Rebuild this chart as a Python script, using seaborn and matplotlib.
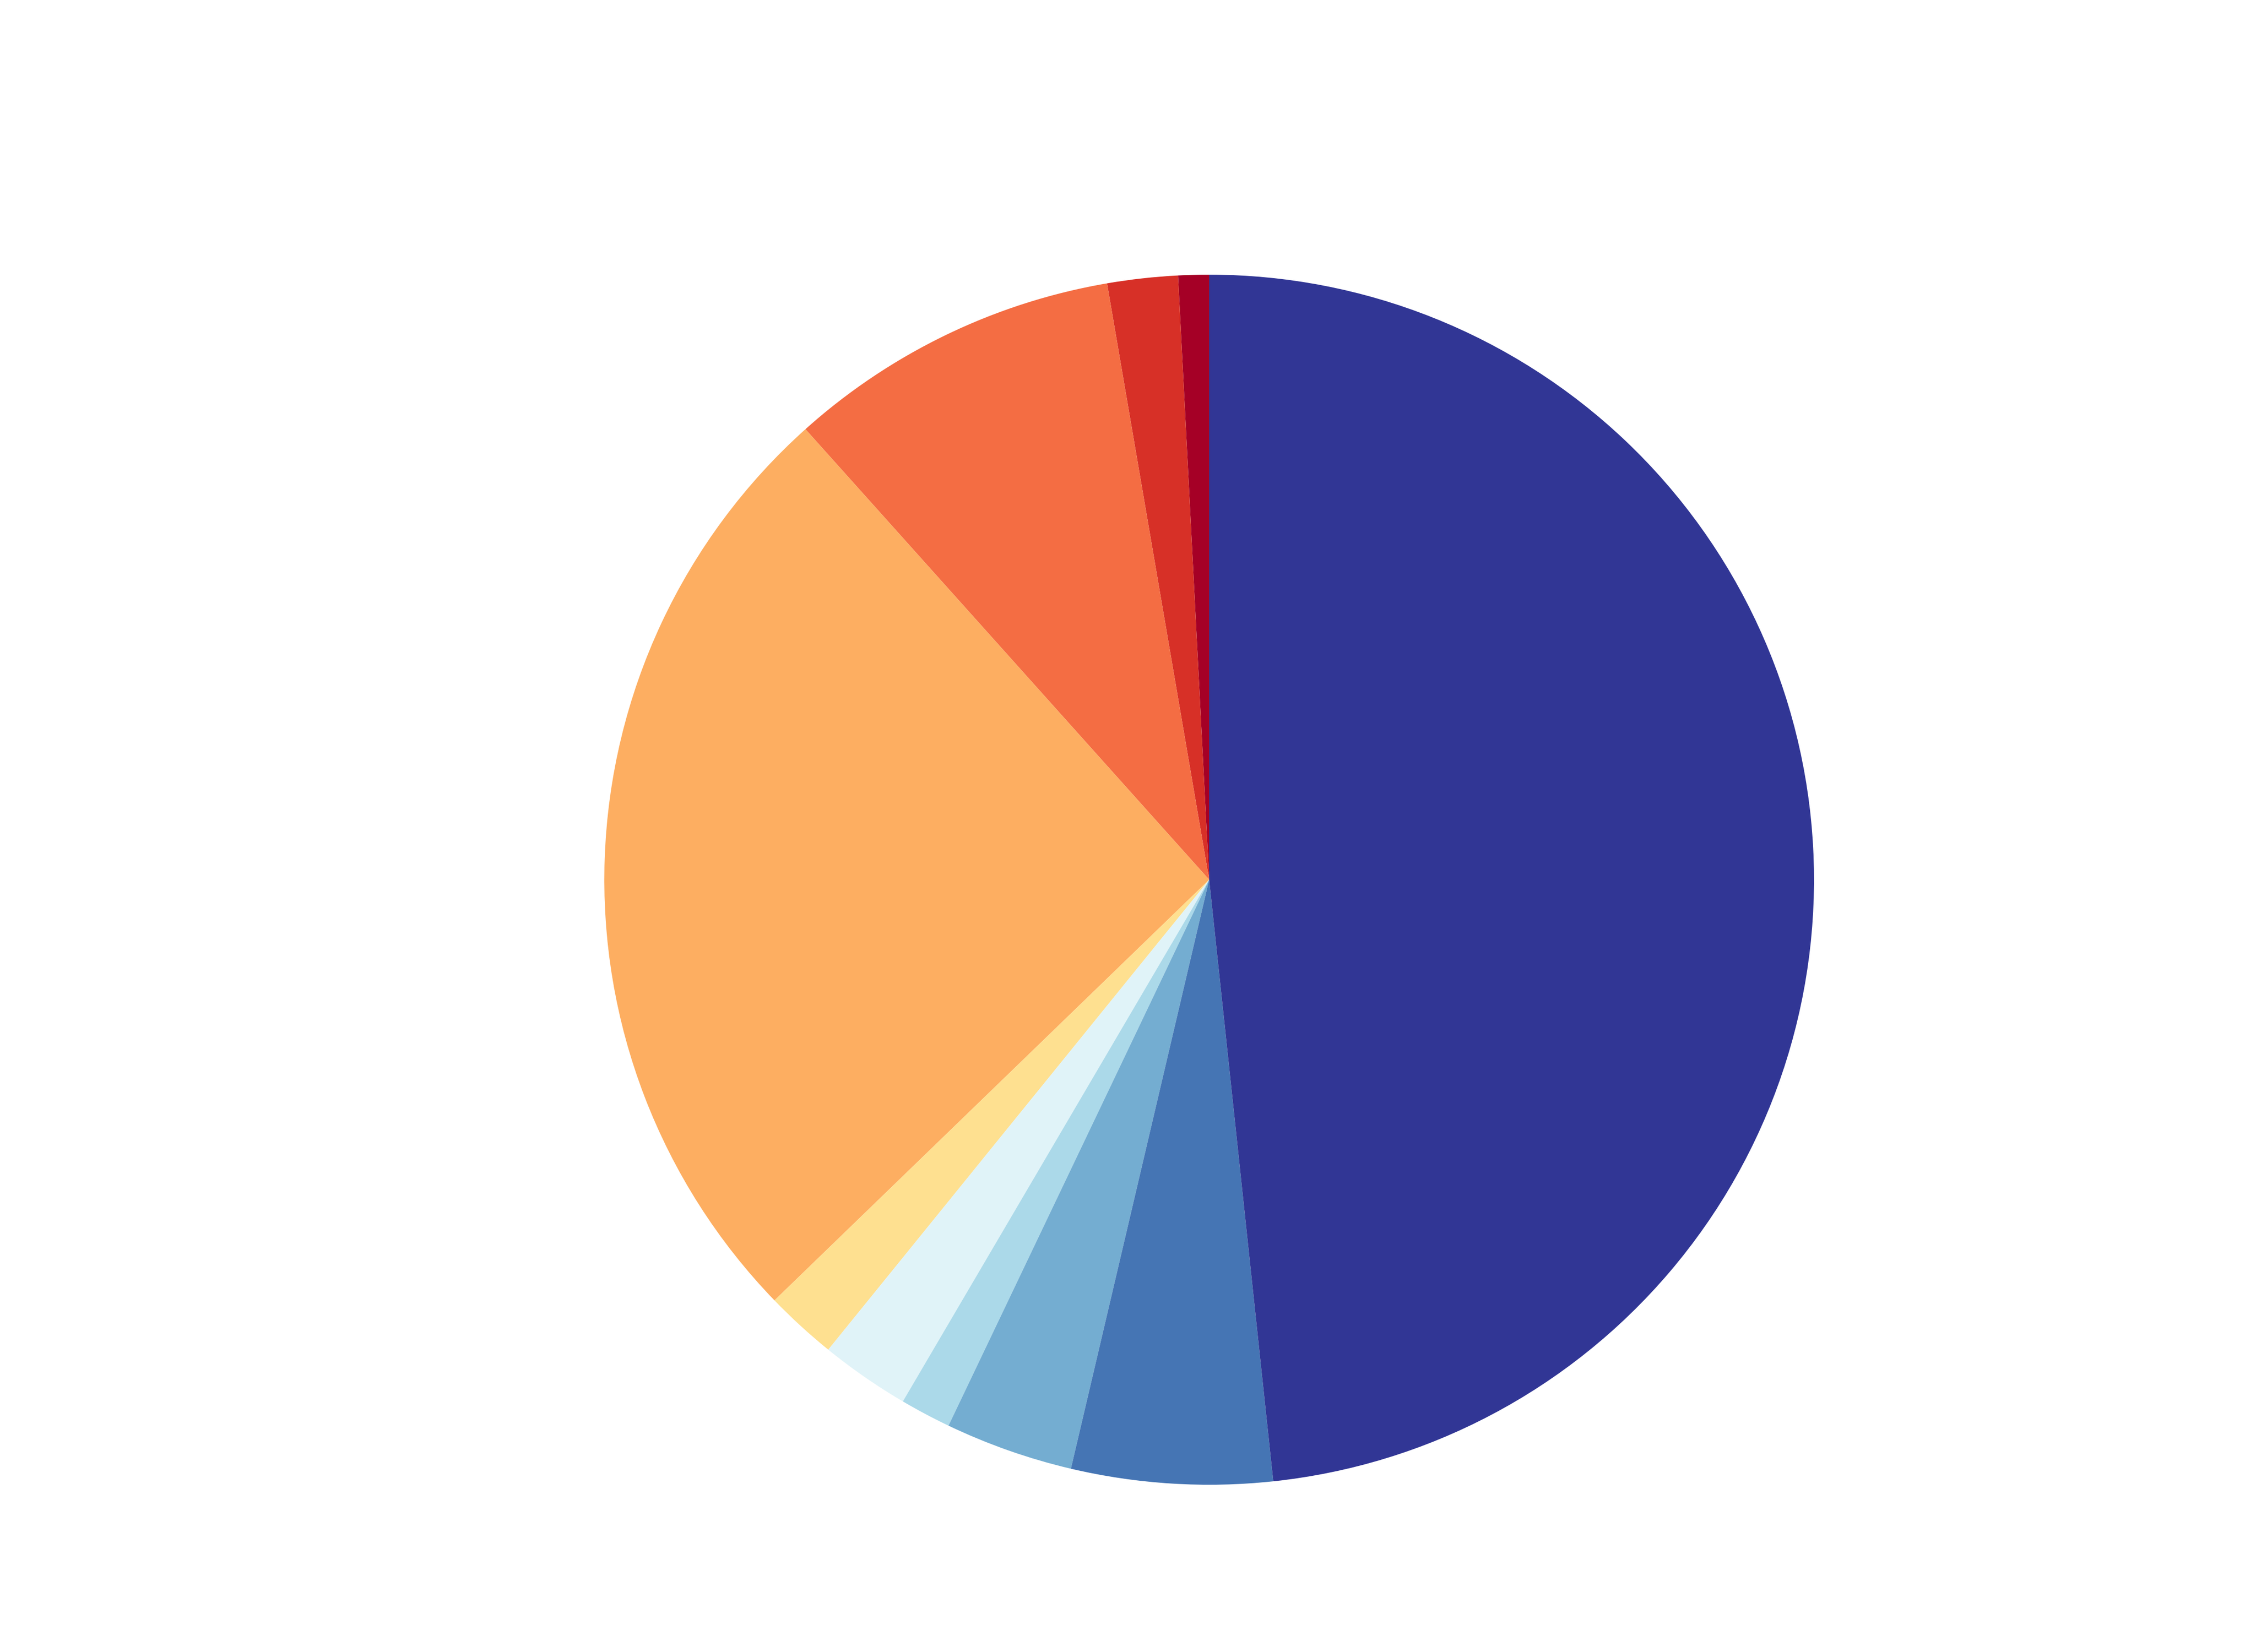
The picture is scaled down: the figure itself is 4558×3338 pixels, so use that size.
import matplotlib
matplotlib.use("Agg")
import matplotlib.pyplot as plt
import seaborn as sns

# slice order: counter-clockwise starting from 12 o'clock
groups = ["G1", "G2", "G3", "G4", "G5", "G6", "G7", "G8", "G9", "G10"]
shares = [0.82, 1.88, 8.93, 25.6, 1.92, 2.39, 1.36, 3.42, 5.36, 48.3]

# ColorBrewer RdYlBu, 10 classes
colors = ["#a50026", "#d73027", "#f46d43", "#fdae61", "#fee090",
          "#e0f3f8", "#abd9e9", "#74add1", "#4575b4", "#313695"]

sns.set_theme(style="white")

fig = plt.figure(figsize=(4558 / 300, 3338 / 300), dpi=300)
ax = fig.add_axes([1221 / 4558, 338 / 3338, 2444 / 4558, 2445 / 3338])

ax.pie(shares, colors=colors, startangle=90, counterclock=True,
       wedgeprops={"linewidth": 0, "edgecolor": "none"})
ax.set_xlim(-1, 1)
ax.set_ylim(-1, 1)
ax.set_aspect("auto")
ax.axis("off")

fig.savefig("out.png", dpi=300, facecolor="white")
